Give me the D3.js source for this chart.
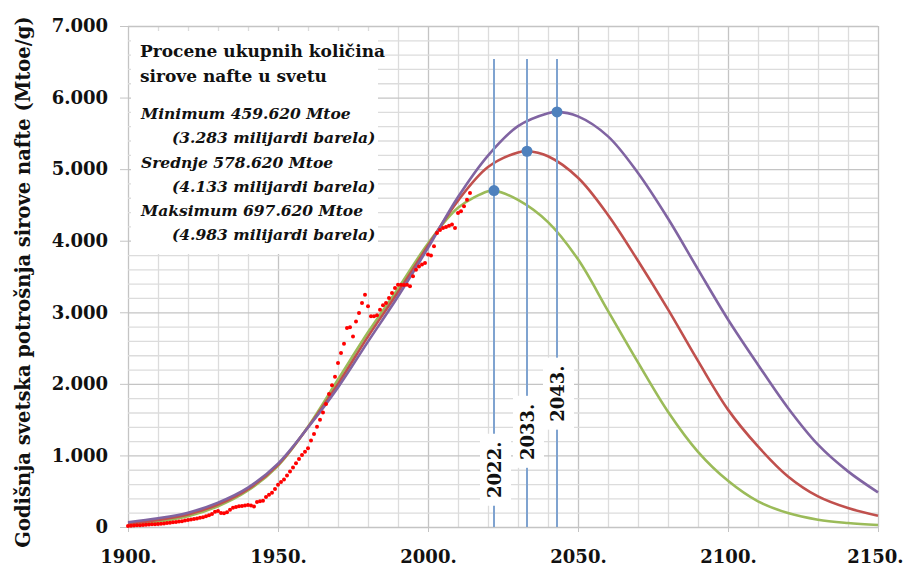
<!DOCTYPE html>
<html>
<head>
<meta charset="utf-8">
<script src="https://cdn.jsdelivr.net/npm/d3@7"></script>
<style>
  body { margin: 0; background: #fff; }
  svg { display: block; }
  text { font-family: "DejaVu Serif", serif; }
</style>
</head>
<body>
<svg width="904" height="567"></svg>
<script>
const width = 904;
const height = 567;

// decade points
const curveYears = [1900, 1910, 1920, 1930, 1940, 1950, 1960, 1970, 1980, 1990, 2000, 2010, 2020,
  2030, 2040, 2050, 2060, 2070, 2080, 2090, 2100, 2110, 2120, 2130, 2140, 2150];
const minValues = [30, 75, 150, 290, 510, 855, 1400, 2060, 2720, 3330, 3960, 4460, 4690,
  4570, 4260, 3740, 3020, 2300, 1610, 1050, 645, 358, 195, 102, 56, 28];
const midValues = [48, 98, 175, 315, 530, 870, 1395, 2000, 2660, 3280, 3930, 4560, 5030,
  5234, 5180, 4880, 4360, 3720, 3040, 2320, 1640, 1126, 707, 428, 265, 158];
const maxValues = [66, 121, 200, 340, 550, 885, 1390, 1950, 2590, 3220, 3900, 4610, 5190,
  5600, 5780, 5737, 5458, 4946, 4310, 3600, 2900, 2268, 1663, 1150, 777, 484];

const peakYears = [2022, 2033, 2043];
const peakValues = [4700, 5250, 5800];
const peakLineTop = 6540;
const peakLabelCenter = [800, 1330, 1863];

// historical consumption, one dot per year from 1900
const histStart = 1900;
const histValues = [
  14, 17, 20, 23, 26, 29, 32, 35, 38, 40,
  42, 46, 50, 55, 60, 65, 70, 76, 82, 90,
  98, 105, 112, 120, 128, 135, 150, 165, 182, 214,
  222, 195, 191, 205, 240, 270, 280, 290, 294, 300,
  308, 300, 285, 350, 360, 368, 420, 450, 480, 530,
  590, 630, 665, 720, 775, 830, 890, 950, 1005, 1050,
  1100, 1210, 1300, 1400, 1500, 1600, 1720, 1860, 1980, 2100,
  2290, 2430, 2560, 2780, 2790, 2660, 2870, 2990, 3130, 3246,
  3083, 2943, 2943, 2960, 3036, 3100, 3130, 3200, 3270, 3340,
  3386, 3386, 3380, 3386, 3363, 3503, 3596, 3640, 3666, 3689,
  3806, 3792, 3922, 4108, 4150, 4178, 4192, 4210, 4225, 4178,
  4387, 4411, 4480, 4573, 4666
];

const xTicks = [1900, 1950, 2000, 2050, 2100, 2150];
const yTicks = [0, 1000, 2000, 3000, 4000, 5000, 6000, 7000];

const legendTitle = ["Procene ukupnih količina", "sirove nafte u svetu"];
const scenarioNames = ["Minimum", "Srednje", "Maksimum"];
const scenarioMtoe = ["459.620", "578.620", "697.620"];
const scenarioBarrels = ["3.283", "4.133", "4.983"];

const yTitle = "Godišnja svetska potrošnja sirove nafte (Mtoe/g)";

const colors = ["#9bbb59", "#c0504d", "#8064a2"];

const svg = d3.select("svg");

const x = d3.scaleLinear().domain([1900, 2150]).range([128, 878]);
const y = d3.scaleLinear().domain([0, 7000]).range([527, 26]);

const locale = d3.formatLocale({ decimal: ",", thousands: ".", grouping: [3], currency: ["", ""] });
const fmt = locale.format(",");

// grid
const grid = svg.append("g");
grid.selectAll("line.v")
  .data(d3.range(1900, 2151, 10))
  .join("line")
    .attr("x1", d => x(d) + 0.5).attr("x2", d => x(d) + 0.5)
    .attr("y1", y(7000)).attr("y2", y(0))
    .attr("stroke", d => d % 50 === 0 ? "#c4c4c4" : "#dcdcdc")
    .attr("stroke-width", 1.3);
grid.selectAll("line.h")
  .data(d3.range(0, 7001, 200))
  .join("line")
    .attr("x1", x(1900)).attr("x2", x(2150))
    .attr("y1", d => y(d) + 0.5).attr("y2", d => y(d) + 0.5)
    .attr("stroke", d => d % 1000 === 0 ? "#c4c4c4" : "#dcdcdc")
    .attr("stroke-width", 1.3);

// axes
const yAxis = svg.append("g")
    .attr("transform", `translate(${x(1900)},0)`)
    .call(d3.axisLeft(y).tickValues(yTicks).tickSize(8).tickPadding(12).tickFormat(fmt));
const xAxis = svg.append("g")
    .attr("transform", `translate(0,${y(0)})`)
    .call(d3.axisBottom(x).tickValues(xTicks).tickSize(5).tickPadding(18).tickFormat(d => d + "."));
[yAxis, xAxis].forEach(a => {
  a.select(".domain").remove();
  a.selectAll(".tick line").attr("stroke", "#c4c4c4");
  a.selectAll("text")
    .attr("fill", "#111")
    .attr("font-size", 18)
    .attr("font-weight", "bold")
    .style("font-family", "'DejaVu Serif', serif");
});
// last year label sits against the right edge
xAxis.selectAll(".tick text")
    .filter(d => d === 2150)
    .attr("text-anchor", "end")
    .attr("x", 25);

svg.append("text")
    .attr("transform", `translate(30,282) rotate(-90)`)
    .attr("text-anchor", "middle")
    .attr("font-size", 19.5)
    .attr("font-weight", "bold")
    .attr("fill", "#111")
    .text(yTitle);

// curves
const line = d3.line()
    .x(d => x(d[0]))
    .y(d => y(d[1]))
    .curve(d3.curveCatmullRom.alpha(0.5));

[minValues, midValues, maxValues].forEach((vals, i) => {
  const pts = curveYears.map((yr, j) => [yr, vals[j]]);
  pts.push([peakYears[i], peakValues[i]]);
  pts.sort((a, b) => a[0] - b[0]);
  svg.append("path")
      .datum(pts)
      .attr("fill", "none")
      .attr("stroke", colors[i])
      .attr("stroke-width", 2.6)
      .attr("d", line);
});

// historical dots
svg.append("g")
  .selectAll("circle")
  .data(histValues)
  .join("circle")
    .attr("cx", (d, i) => x(histStart + i))
    .attr("cy", d => y(d))
    .attr("r", 2)
    .attr("fill", "#ff0000");

// peak year lines
const peaks = svg.append("g");
peaks.selectAll("line")
  .data(peakYears)
  .join("line")
    .attr("x1", d => x(d)).attr("x2", d => x(d))
    .attr("y1", y(peakLineTop)).attr("y2", y(0))
    .attr("stroke", "#7fa3d0")
    .attr("stroke-width", 2);

const labels = peaks.selectAll("g.lbl")
  .data(peakYears)
  .join("g")
    .attr("transform", (d, i) => `translate(${x(d) + 1},${y(peakLabelCenter[i])})`);
labels.append("rect")
    .attr("x", -15).attr("y", -36)
    .attr("width", 31).attr("height", 72)
    .attr("fill", "#fff");
labels.append("text")
    .attr("transform", "rotate(-90)")
    .attr("text-anchor", "middle")
    .attr("dy", "0.36em")
    .attr("font-size", 18)
    .attr("font-weight", "bold")
    .attr("fill", "#111")
    .text(d => d + ".");

peaks.selectAll("circle")
  .data(peakYears)
  .join("circle")
    .attr("cx", d => x(d))
    .attr("cy", (d, i) => y(peakValues[i]))
    .attr("r", 5.5)
    .attr("fill", "#4f81bd");

// legend box
const legend = svg.append("g");
legend.append("rect")
    .attr("x", 131).attr("y", 31)
    .attr("width", 247).attr("height", 223)
    .attr("fill", "#fff");
legend.selectAll("text.t")
  .data(legendTitle)
  .join("text")
    .attr("x", 140)
    .attr("y", (d, i) => 57 + i * 25)
    .attr("font-size", 17)
    .attr("font-weight", "bold")
    .attr("fill", "#111")
    .text(d => d);
scenarioNames.forEach((name, i) => {
  legend.append("text")
      .attr("x", 141)
      .attr("y", 119 + i * 48.5)
      .attr("font-size", 15.5)
      .attr("font-weight", "bold")
      .attr("font-style", "italic")
      .attr("fill", "#111")
      .text(`${name} ${scenarioMtoe[i]} Mtoe`);
  legend.append("text")
      .attr("x", 172)
      .attr("y", 143 + i * 48.5)
      .attr("font-size", 15.5)
      .attr("font-weight", "bold")
      .attr("font-style", "italic")
      .attr("fill", "#111")
      .text(`(${scenarioBarrels[i]} milijardi barela)`);
});
</script>
</body>
</html>
